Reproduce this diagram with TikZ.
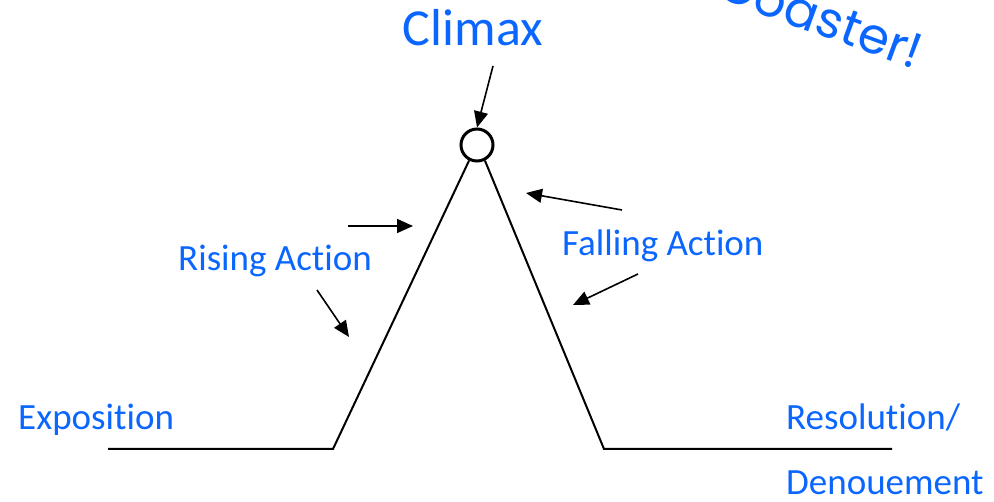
\documentclass[tikz,border=0pt]{standalone}
\usepackage{fontspec}
\setmainfont[Ligatures=NoCommon]{Carlito}
\newfontfamily\comicfont{Poppins}
\usetikzlibrary{arrows.meta}
\definecolor{lblue}{RGB}{10,102,255}
\tikzset{
  lbl/.style={text=lblue, inner sep=0pt, font=\fontsize{37}{40}\selectfont},
  plot/.style={line width=2pt, black},
  pointer/.style={line width=1.6pt, -{Triangle[length=16pt,width=14pt]}},
}
\begin{document}
\begin{tikzpicture}[x=1pt,y=-1pt]
\useasboundingbox (0,0) rectangle (994,502);
\clip (0,0) rectangle (994,502);
% peak
\node[circle, draw, line width=3pt, minimum size=32pt, inner sep=0pt] (peak) at (477,145) {};
\coordinate (l0) at (108,449);
\coordinate (l1) at (333,449);
\coordinate (r1) at (604,449);
\coordinate (r0) at (892,449);
\draw[plot] (l0) -- (l1) -- (peak.243);
\draw[plot] (peak.297) -- (r1) -- (r0);
% labels
\node[lbl, anchor=base, font=\fontsize{52}{56}\selectfont] (climax) at (473,46) {Climax};
\node[lbl, anchor=base west] (rising) at (178,271) {Rising Action};
\node[lbl, anchor=base west] (falling) at (562,256) {Falling Action};
\node[lbl, anchor=base west] (expo) at (18,430) {Exposition};
\node[lbl, anchor=base west] (reso) at (786,430) {Resolution/};
\node[lbl, anchor=base west] (deno) at (786,495) {Denouement};
\node[text=lblue, inner sep=0pt, anchor=base east, rotate=-20, font=\comicfont\fontsize{50}{54}\selectfont] (coaster) at (915,70) {Coaster!};
% pointers
\coordinate (c0) at (493,66);
\draw[pointer] (c0) -- (peak.north);
\coordinate (ra0) at (348,226);
\coordinate (ra1) at (413,226);
\draw[pointer] (ra0) -- (ra1);
\coordinate (rb0) at (317,290);
\coordinate (rb1) at (349,337);
\draw[pointer] (rb0) -- (rb1);
\coordinate (fa0) at (622,210);
\coordinate (fa1) at (526,193);
\draw[pointer] (fa0) -- (fa1);
\coordinate (fb0) at (638,274);
\coordinate (fb1) at (573,305);
\draw[pointer] (fb0) -- (fb1);
\end{tikzpicture}
\end{document}
